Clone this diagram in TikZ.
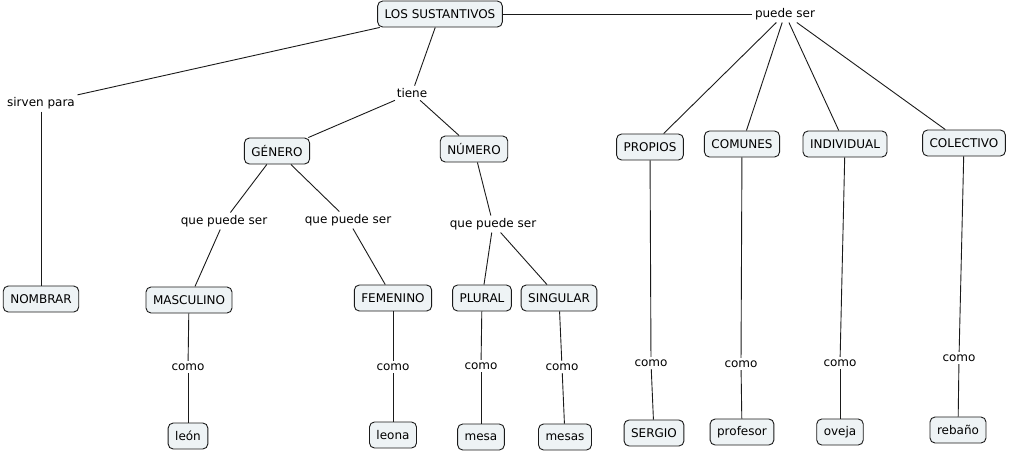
\documentclass[tikz,border=0pt]{standalone}
\usepackage{fontspec}
\setmainfont{DejaVu Sans}
\usetikzlibrary{positioning}
\definecolor{cBox}{HTML}{EEF3F5}
\definecolor{cLine}{HTML}{1A1A1A}
\tikzset{
  concept/.style={rounded corners=5pt,draw=cLine,fill=cBox,line width=0.9pt,
              inner xsep=7pt,minimum height=26pt,align=center},
  phrase/.style={inner sep=2.5pt},
  wire/.style={cLine,line width=0.9pt},
}

\begin{document}
\begin{tikzpicture}[x=1pt,y=-1pt,font=\fontsize{12}{14}\selectfont]
  \useasboundingbox (0,0) rectangle (1010,451);
  % concepts
  \node[concept](los) at (440,14){LOS SUSTANTIVOS};
  \node[concept](genero) at (277,151){GÉNERO};
  \node[concept](numero) at (474,149){NÚMERO};
  \node[concept](propios) at (650,147){PROPIOS};
  \node[concept](comunes) at (742,144){COMUNES};
  \node[concept](individual) at (845,144){INDIVIDUAL};
  \node[concept](colectivo) at (964,143){COLECTIVO};
  \node[concept](nombrar) at (41,299){NOMBRAR};
  \node[concept](masculino) at (189,300){MASCULINO};
  \node[concept](femenino) at (393,298){FEMENINO};
  \node[concept](plural) at (482,298){PLURAL};
  \node[concept](singular) at (559,298){SINGULAR};
  \node[concept](leon) at (188,436){león};
  \node[concept](leona) at (393,435){leona};
  \node[concept](mesa) at (481,437){mesa};
  \node[concept](mesas) at (565,437){mesas};
  \node[concept](sergio) at (654,433){SERGIO};
  \node[concept](profesor) at (742,432){profesor};
  \node[concept](oveja) at (840,432){oveja};
  \node[concept](rebano) at (958,430){rebaño};
  % linking phrases
  \node[phrase](puede) at (785,14){puede ser};
  \node[phrase](sirven) at (41,103){sirven para};
  \node[phrase](tiene) at (412,93){tiene};
  \node[phrase](qpsA) at (224,221){que puede ser};
  \node[phrase](qpsB) at (348,220){que puede ser};
  \node[phrase](qpsC) at (493,224){que puede ser};
  \node[phrase](comoA) at (188,367){como};
  \node[phrase](comoB) at (393,367){como};
  \node[phrase](comoC) at (481,366){como};
  \node[phrase](comoD) at (562,367){como};
  \node[phrase](comoE) at (651,363){como};
  \node[phrase](comoF) at (741,364){como};
  \node[phrase](comoG) at (840,363){como};
  \node[phrase](comoH) at (959,358){como};
  % connectors
  \foreach \a/\b in {los/puede,los/sirven,los/tiene,sirven/nombrar,
     tiene/genero,tiene/numero,puede/propios,puede/comunes,
     puede/individual,puede/colectivo,genero/qpsA,genero/qpsB,
     qpsA/masculino,qpsB/femenino,numero/qpsC,qpsC/plural,qpsC/singular,
     masculino/comoA,comoA/leon,femenino/comoB,comoB/leona,
     plural/comoC,comoC/mesa,singular/comoD,comoD/mesas,
     propios/comoE,comoE/sergio,comunes/comoF,comoF/profesor,
     individual/comoG,comoG/oveja,colectivo/comoH,comoH/rebano}
     \draw[wire](\a)--(\b);
\end{tikzpicture}
\end{document}
